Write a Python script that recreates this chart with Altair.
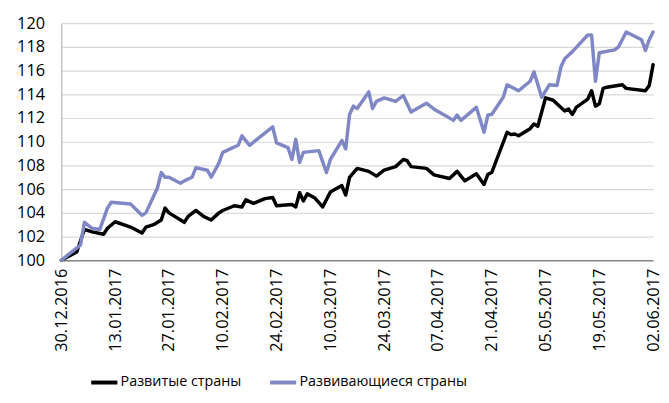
import altair as alt
import pandas as pd

series_names = ["Развитые страны", "Развивающиеся страны"]
series_colors = ["#000000", "#8087C5"]

dev_dates = ["2016-12-30","2017-01-03","2017-01-05","2017-01-07","2017-01-10","2017-01-11","2017-01-13",
             "2017-01-17","2017-01-20","2017-01-21","2017-01-23","2017-01-25","2017-01-26","2017-01-27",
             "2017-01-31","2017-02-01","2017-02-03","2017-02-05","2017-02-07","2017-02-09","2017-02-10",
             "2017-02-13","2017-02-15","2017-02-16","2017-02-18","2017-02-21","2017-02-23","2017-02-24",
             "2017-02-28","2017-03-01","2017-03-02","2017-03-03","2017-03-04","2017-03-06","2017-03-08",
             "2017-03-10","2017-03-13","2017-03-14","2017-03-15","2017-03-17","2017-03-20","2017-03-22",
             "2017-03-24","2017-03-27","2017-03-29","2017-03-30","2017-03-31","2017-04-04","2017-04-06",
             "2017-04-10","2017-04-12","2017-04-14","2017-04-17","2017-04-19","2017-04-20","2017-04-21",
             "2017-04-25","2017-04-26","2017-04-27","2017-04-28","2017-05-01","2017-05-02","2017-05-03",
             "2017-05-05","2017-05-07","2017-05-10","2017-05-11","2017-05-12","2017-05-13","2017-05-16",
             "2017-05-17","2017-05-18","2017-05-19","2017-05-20","2017-05-21","2017-05-25","2017-05-26",
             "2017-05-31","2017-06-01","2017-06-02"]
dev_values = [100.0,100.7,102.6,102.4,102.2,102.7,103.25,
              102.8,102.3,102.8,103.0,103.4,104.4,104.0,
              103.2,103.7,104.2,103.7,103.4,104.0,104.2,
              104.6,104.5,105.1,104.8,105.2,105.3,104.6,
              104.7,104.5,105.7,105.0,105.6,105.25,104.5,
              105.75,106.3,105.5,107.0,107.75,107.5,107.1,
              107.6,107.9,108.5,108.4,107.9,107.75,107.2,
              106.9,107.5,106.7,107.3,106.4,107.25,107.4,
              110.8,110.6,110.65,110.5,111.1,111.5,111.3,
              113.7,113.5,112.6,112.75,112.3,112.9,113.6,
              114.3,113.0,113.2,114.5,114.6,114.8,114.5,
              114.3,114.75,116.5]

em_dates = ["2016-12-30","2017-01-04","2017-01-05","2017-01-07","2017-01-09","2017-01-11","2017-01-12",
            "2017-01-17","2017-01-20","2017-01-21","2017-01-24","2017-01-25","2017-01-26","2017-01-27",
            "2017-01-30","2017-01-31","2017-02-02","2017-02-03","2017-02-06","2017-02-07","2017-02-09",
            "2017-02-10","2017-02-14","2017-02-15","2017-02-17","2017-02-23","2017-02-24","2017-02-27",
            "2017-02-28","2017-03-01","2017-03-02","2017-03-03","2017-03-07","2017-03-09","2017-03-10",
            "2017-03-13","2017-03-14","2017-03-15","2017-03-16","2017-03-17","2017-03-20","2017-03-21",
            "2017-03-22","2017-03-24","2017-03-27","2017-03-29","2017-03-31","2017-04-04","2017-04-06",
            "2017-04-09","2017-04-11","2017-04-12","2017-04-13","2017-04-17","2017-04-19","2017-04-20",
            "2017-04-21","2017-04-24","2017-04-25","2017-04-28","2017-05-01","2017-05-02","2017-05-04",
            "2017-05-06","2017-05-08","2017-05-09","2017-05-10","2017-05-12","2017-05-16","2017-05-17",
            "2017-05-18","2017-05-19","2017-05-23","2017-05-24","2017-05-26","2017-05-30","2017-05-31",
            "2017-06-01","2017-06-02"]
em_values = [100.0,101.3,103.2,102.7,102.6,104.4,104.9,
             104.75,103.8,104.0,106.1,107.4,107.0,107.0,
             106.5,106.7,107.0,107.8,107.6,107.0,108.2,
             109.1,109.7,110.5,109.7,111.25,109.9,109.5,
             108.5,110.2,108.25,109.1,109.25,107.4,108.5,
             110.1,109.4,112.3,113.0,112.8,114.2,112.8,
             113.4,113.7,113.4,113.9,112.5,113.25,112.75,
             112.2,111.8,112.25,111.8,112.9,110.8,112.25,
             112.3,113.75,114.8,114.3,115.1,115.9,113.75,
             114.8,114.75,116.3,117.0,117.6,119.0,119.0,
             115.1,117.5,117.75,118.0,119.25,118.6,117.7,
             118.6,119.25]

tick_dates = [(2016,12,30),(2017,1,13),(2017,1,27),(2017,2,10),(2017,2,24),(2017,3,10),
              (2017,3,24),(2017,4,7),(2017,4,21),(2017,5,5),(2017,5,19),(2017,6,2)]
y_ticks = list(range(100, 121, 2))

df = pd.concat([
    pd.DataFrame({"date": dev_dates, "value": dev_values, "series": series_names[0], "order": 0}),
    pd.DataFrame({"date": em_dates, "value": em_values, "series": series_names[1], "order": 1}),
])

def dt(t):
    return alt.DateTime(year=t[0], month=t[1], date=t[2], utc=True)

FONT = "Open Sans"

chart = alt.Chart(df).mark_line(strokeWidth=3.5, strokeJoin="round", strokeCap="round").encode(
    x=alt.X("date:T",
            scale=alt.Scale(type="utc", domain=[dt(tick_dates[0]), dt(tick_dates[-1])]),
            axis=alt.Axis(values=[dt(t) for t in tick_dates], format="%d.%m.%Y", labelAngle=270,
                          grid=False, ticks=False, labelPadding=8, title=None,
                          domainColor="#868686", domainWidth=1.5,
                          labelFont=FONT, labelFontSize=16.5, labelColor="#000000",
                          labelOverlap=False, labelBound=False, labelFlush=False)),
    y=alt.Y("value:Q",
            scale=alt.Scale(domain=[100, 120], nice=False, zero=False),
            axis=alt.Axis(values=y_ticks, ticks=False, labelPadding=17, title=None,
                          gridColor="#D9D9D9", gridWidth=1.2,
                          domainColor="#A6A6A6", domainWidth=1,
                          labelFont=FONT, labelFontSize=16.5, labelColor="#000000")),
    color=alt.Color("series:N",
                    scale=alt.Scale(domain=series_names, range=series_colors),
                    legend=alt.Legend(orient="none", direction="horizontal", title=None,
                                      legendX=28, legendY=348, padding=0,
                                      symbolType="stroke", symbolSize=700, symbolStrokeWidth=4,
                                      labelFont=FONT, labelFontSize=14.5, labelColor="#000000",
                                      labelLimit=400, labelOffset=1, columnPadding=20)),
    order="order:Q",
    detail="series:N",
).properties(
    width=599, height=240,
    autosize=alt.AutoSizeParams(type="none"),
    padding={"left": 54, "top": 13, "right": 8, "bottom": 134},
).configure_view(stroke=None)

chart.save("out.html", embed_options={"renderer": "svg", "actions": False})
